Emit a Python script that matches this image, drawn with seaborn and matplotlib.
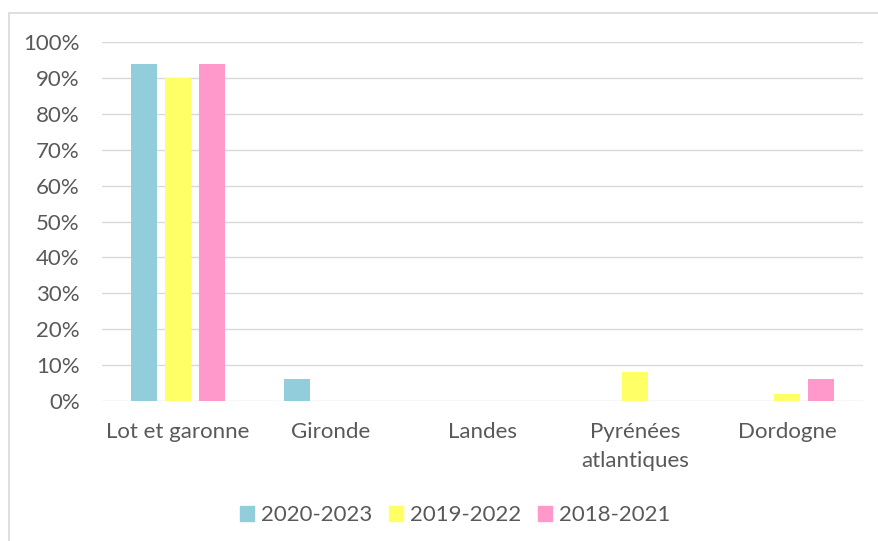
import matplotlib.pyplot as plt
import matplotlib.patches as mpatches
import pandas as pd
import seaborn as sns

regions = ['Lot et garonne', 'Gironde', 'Landes', 'Pyrénées\natlantiques', 'Dordogne']
periods = ['2020-2023', '2019-2022', '2018-2021']
share_2020_2023 = [94, 6, 0, 0, 0]
share_2019_2022 = [90, 0, 0, 8, 2]
share_2018_2021 = [94, 0, 0, 0, 6]
colors = ['#92CDDC', '#FFFF66', '#FF99CC']
y_ticks = [0, 10, 20, 30, 40, 50, 60, 70, 80, 90, 100]

rows = []
for period, values in zip(periods, [share_2020_2023, share_2019_2022, share_2018_2021]):
    for region, v in zip(regions, values):
        rows.append({'region': region, 'period': period, 'value': v})
df = pd.DataFrame(rows)

sns.set_style('white')
plt.rcParams['font.family'] = ['Lato', 'DejaVu Sans']
text_col = '#595959'
grid_col = '#D9D9D9'
fsize = 16

fig = plt.figure(figsize=(8.79, 5.41), dpi=100)
ax = fig.add_axes([102 / 879, 1 - 401 / 541, (863 - 102) / 879, (401 - 42) / 541])

sns.barplot(data=df, x='region', y='value', hue='period', palette=colors,
            saturation=1, width=0.664, gap=0.23, ax=ax, legend=False, linewidth=0,
            order=regions, hue_order=periods)

ax.set_ylim(0, 100)
ax.set_xlim(-0.5, 4.5)
ax.set_yticks(y_ticks)
ax.set_yticklabels([f'{t}%' for t in y_ticks])
ax.yaxis.grid(True, color=grid_col, linewidth=1.0)
ax.set_axisbelow(True)
for s in ax.spines.values():
    s.set_visible(False)
ax.tick_params(axis='y', length=0, pad=16, labelsize=fsize, labelcolor=text_col)
ax.tick_params(axis='x', length=0, pad=15, labelsize=fsize, labelcolor=text_col)
for lbl in ax.get_xticklabels():
    lbl.set_linespacing(1.55)
ax.set_xlabel('')
ax.set_ylabel('')

handles = [mpatches.Patch(color=c, label=p) for c, p in zip(colors, periods)]
fig.legend(handles=handles, loc='center', bbox_to_anchor=(455 / 879, 1 - 515 / 541),
           ncol=3, frameon=False, fontsize=fsize, labelcolor=text_col,
           handlelength=0.65, handleheight=0.65, handletextpad=0.3, columnspacing=0.75)

# chart area border (only top and left visible in the crop)
fig.patches.append(mpatches.Rectangle((8.5 / 879, -0.1), 1.2, 1.1 - 13 / 541,
                                      transform=fig.transFigure, fill=False,
                                      edgecolor=grid_col, linewidth=1.2))

plt.savefig('out.png', dpi=100)
